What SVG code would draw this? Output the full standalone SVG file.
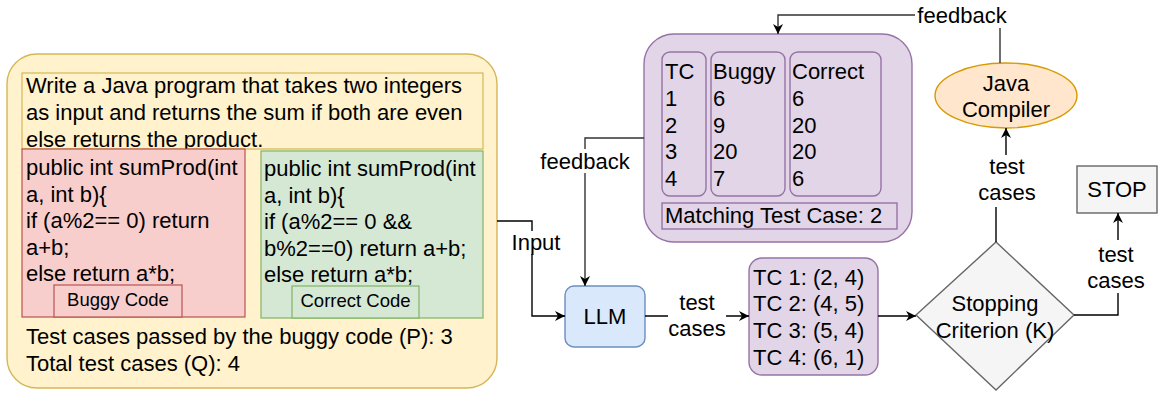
<svg xmlns="http://www.w3.org/2000/svg" width="1158" height="394" viewBox="0 0 1158 394">
<style>
text{font-family:"Liberation Sans",Arial,sans-serif;font-size:22px;fill:#000}
.small{font-size:18.5px}
.c{text-anchor:middle}
.edge{fill:none;stroke:#000;stroke-width:1.4}
.fb{fill:none;stroke:#333;stroke-width:1.4}
.lbg{fill:#fff;stroke:none}
.purple{fill:#e1d5e7;stroke:#9673a6;stroke-width:1.4}
</style>
<defs>
<marker id="arr" viewBox="0 0 10 10" markerWidth="10" markerHeight="10" refX="10" refY="5" orient="auto" markerUnits="userSpaceOnUse">
<path d="M0,0 L10,5 L0,10 L3,5 z" fill="#000"/>
</marker>
</defs>
<rect width="1158" height="394" fill="#fff"/>

<g id="problem">
<rect x="7" y="54" width="490" height="334" rx="30" fill="#fff2cc" stroke="#d6b656" stroke-width="1.4"/>
<rect x="22" y="73" width="461" height="76" fill="#fff2cc" stroke="#d6b656" stroke-width="1.2"/>
<text x="26" y="93">Write a Java program that takes two integers</text>
<text x="26" y="120">as input and returns the sum if both are even</text>
<text x="26" y="147">else returns the product.</text>
<text x="26" y="344">Test cases passed by the buggy code (P): 3</text>
<text x="26" y="371">Total test cases (Q): 4</text>
</g>
<g id="buggy">
<rect x="22" y="149" width="223" height="168" fill="#f8cecc" stroke="#b85450" stroke-width="1.2"/>
<text x="26" y="175">public int sumProd(int</text>
<text x="26" y="201.5">a, int b){</text>
<text x="26" y="228">if (a%2== 0) return</text>
<text x="26" y="254.5">a+b;</text>
<text x="26" y="281">else return a*b;</text>
<rect x="54" y="285" width="128" height="32" fill="#f8cecc" stroke="#b85450" stroke-width="1.2"/>
<text class="small c" x="118" y="306">Buggy Code</text>
</g>
<g id="correct">
<rect x="261" y="151" width="222" height="167" fill="#d5e8d4" stroke="#82b366" stroke-width="1.2"/>
<text x="264" y="176">public int sumProd(int</text>
<text x="264" y="202.5">a, int b){</text>
<text x="264" y="229">if (a%2== 0 &amp;&amp;</text>
<text x="264" y="255.5">b%2==0) return a+b;</text>
<text x="264" y="282">else return a*b;</text>
<rect x="292" y="286" width="127" height="32" fill="#d5e8d4" stroke="#82b366" stroke-width="1.2"/>
<text class="small c" x="355.5" y="307">Correct Code</text>
</g>

<g id="results">
<rect class="purple" x="644" y="34" width="268" height="208" rx="30"/>
<rect class="purple" x="662" y="52" width="44" height="144" rx="8"/>
<rect class="purple" x="711" y="52" width="74" height="144" rx="8"/>
<rect class="purple" x="790" y="52" width="91" height="144" rx="8"/>
<rect class="purple" x="662" y="203" width="235" height="26"/>
<text x="665" y="79">TC</text><text x="665" y="106">1</text><text x="665" y="132.5">2</text><text x="665" y="159">3</text><text x="665" y="186">4</text>
<text x="713" y="79">Buggy</text><text x="713" y="106">6</text><text x="713" y="132.5">9</text><text x="713" y="159">20</text><text x="713" y="186">7</text>
<text x="792" y="79">Correct</text><text x="792" y="106">6</text><text x="792" y="132.5">20</text><text x="792" y="159">20</text><text x="792" y="186">6</text>
<text x="665" y="223">Matching Test Case: 2</text>
</g>

<g id="llm">
<rect x="565" y="286" width="80" height="61" rx="9" fill="#dae8fc" stroke="#6c8ebf" stroke-width="1.4"/>
<text class="c" x="605" y="324">LLM</text>
</g>

<g id="testcases">
<rect class="purple" x="749" y="258" width="129" height="117" rx="13"/>
<text x="753" y="285">TC 1: (2, 4)</text>
<text x="753" y="311">TC 2: (4, 5)</text>
<text x="753" y="338">TC 3: (5, 4)</text>
<text x="753" y="365">TC 4: (6, 1)</text>
</g>

<g id="stopping">
<polygon points="996,242 1074,315 996,390 916,315" fill="#f5f5f5" stroke="#666" stroke-width="1.4"/>
<text class="c" x="995" y="311">Stopping</text>
<text class="c" x="995" y="338">Criterion (K)</text>
</g>

<g id="compiler">
<ellipse cx="1006" cy="95.5" rx="71" ry="32.5" fill="#ffe6cc" stroke="#d79b00" stroke-width="1.4"/>
<text class="c" x="1006" y="91">Java</text>
<text class="c" x="1006" y="117">Compiler</text>
</g>

<g id="stop">
<rect x="1077" y="166" width="80" height="47" fill="#f5f5f5" stroke="#666" stroke-width="1.4"/>
<text class="c" x="1117" y="197">STOP</text>
</g>

<g id="connectors">
<path class="edge" d="M497,221 H532 V316 H565" marker-end="url(#arr)"/>
<rect class="lbg" x="511" y="231" width="50" height="23"/>
<text class="c" x="536" y="250">Input</text>

<path class="fb" d="M644,138 H585 V286" marker-end="url(#arr)"/>
<rect class="lbg" x="539" y="149" width="92" height="24"/>
<text class="c" x="585" y="169">feedback</text>

<path class="edge" d="M645,316 H749" marker-end="url(#arr)"/>
<rect class="lbg" x="668" y="290" width="58" height="52"/>
<text class="c" x="697" y="310">test</text>
<text class="c" x="697" y="336">cases</text>

<path class="edge" d="M878,316 H916" marker-end="url(#arr)"/>

<path class="edge" d="M996,242 V185 H1006 V128" marker-end="url(#arr)"/>
<rect class="lbg" x="979" y="155" width="56" height="52"/>
<text class="c" x="1007" y="174">test</text>
<text class="c" x="1007" y="200">cases</text>

<path class="edge" d="M1074,315 H1118 V213" marker-end="url(#arr)"/>
<rect class="lbg" x="1087" y="240" width="58" height="53"/>
<text class="c" x="1116" y="262">test</text>
<text class="c" x="1116" y="288">cases</text>

<path class="fb" d="M1000,63 V15 H778 V34" marker-end="url(#arr)"/>
<rect class="lbg" x="915" y="3" width="94" height="25"/>
<text class="c" x="962" y="23">feedback</text>
</g>
</svg>
